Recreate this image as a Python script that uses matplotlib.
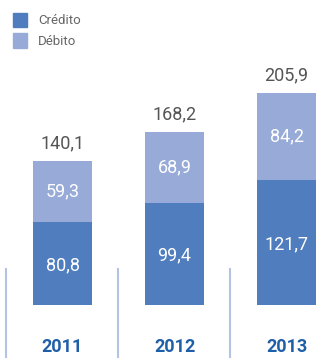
import matplotlib.pyplot as plt
from matplotlib.patches import Rectangle

years = ['2011', '2012', '2013']
credito = [80.8, 99.4, 121.7]
debito = [59.3, 68.9, 84.2]
totais = [140.1, 168.2, 205.9]

c_cred = '#4f7dbd'
c_deb = '#97aad8'

W, H = 333, 358
fig = plt.figure(figsize=(W / 100, H / 100), dpi=100)
ax = fig.add_axes([0, 0, 1, 1])
plt.rcParams['font.family'] = ['Roboto', 'DejaVu Sans']

x = range(len(years))
ax.bar(x, credito, width=0.527, color=c_cred)
ax.bar(x, debito, width=0.527, bottom=credito, color=c_deb)

for i in x:
    ax.text(i, credito[i] / 2 - 2, f'{credito[i]:.1f}'.replace('.', ','),
            ha='center', va='center', color='white', fontsize=13)
    ax.text(i, credito[i] + debito[i] / 2, f'{debito[i]:.1f}'.replace('.', ','),
            ha='center', va='center', color='white', fontsize=13)
    ax.text(i, totais[i] + 17, f'{totais[i]:.1f}'.replace('.', ','),
            ha='center', va='center', color='#555555', fontsize=13)
    ax.text(i, -40.5, years[i], ha='center', va='center', color='#1f5fa8',
            fontsize=13, fontweight='bold')
    # separator line to the left of each year
    ax.plot([i - 0.505, i - 0.505], [-60, 35], color='#b4c3e0', lw=1.5)

ax.set_xlim(-0.558, 2.415)
ax.set_ylim(-51.5, 296)
ax.axis('off')

# legend
for k, (lab, col) in enumerate([('Crédito', c_cred), ('Débito', c_deb)]):
    y0 = 13 + k * 20.5
    fig.add_artist(Rectangle((13 / W, 1 - (y0 + 14) / H), 14 / W, 14 / H,
                             transform=fig.transFigure, color=col))
    fig.text(38 / W, 1 - (y0 + 8) / H, lab, ha='left', va='center',
             color='#666666', fontsize=9.5)

fig.savefig('out.png', dpi=100)
